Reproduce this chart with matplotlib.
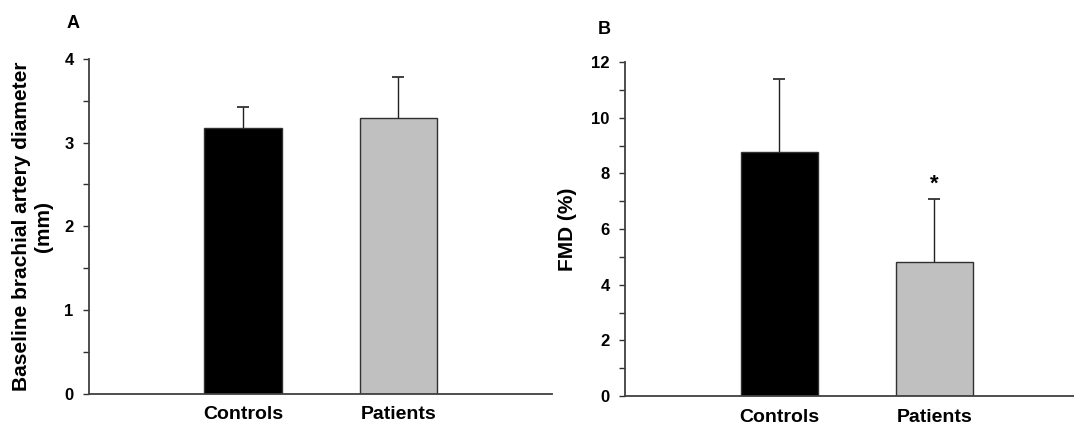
import matplotlib
matplotlib.use("Agg")
import matplotlib.pyplot as plt
from matplotlib.ticker import MultipleLocator

plt.rcParams['font.family'] = ['Liberation Sans', 'DejaVu Sans']
plt.rcParams['font.weight'] = 'bold'

groups = ['Controls', 'Patients']
bar_colors = ['#000000', '#C0C0C0']

# panel A: baseline brachial artery diameter (mm)
diam_mean = [3.17, 3.29]
diam_sd = [0.26, 0.50]

# panel B: FMD (%)
fmd_mean = [8.75, 4.81]
fmd_sd = [2.64, 2.25]
fmd_star = [None, 7.6]

W, H = 1074, 425
fig = plt.figure(figsize=(W / 100, H / 100), dpi=100)

def px_axes(left, right, top, bottom):
    return fig.add_axes([left / W, 1 - bottom / H, (right - left) / W, (bottom - top) / H])

axA = px_axes(89, 552, 59, 393.5)
axB = px_axes(625, 1074, 62, 396)

def draw_panel(ax, means, sds, ymax, major, minor, ylabel, xlim, labelpad):
    x = range(len(groups))
    ax.bar(x, means, width=0.5, color=bar_colors, edgecolor='#303030', linewidth=1.0, zorder=2)
    eb = ax.errorbar(x, means, yerr=[[0] * len(sds), sds], fmt='none', ecolor='#202020',
                     elinewidth=1.0, capsize=4, capthick=1.2, zorder=1)
    # only the upper cap is drawn
    eb[1][0].set_visible(False)
    ax.set_ylim(0, ymax)
    ax.set_xlim(*xlim)
    ax.yaxis.set_major_locator(MultipleLocator(major))
    ax.yaxis.set_minor_locator(MultipleLocator(minor))
    ax.set_xticks(list(x))
    ax.set_xticklabels(groups, fontsize=14, fontweight='bold')
    ax.tick_params(axis='x', length=0, pad=9)
    ax.tick_params(axis='y', which='both', direction='out', length=4, width=1.0,
                   color='#303030', labelsize=12, pad=7)
    for lab in ax.get_yticklabels():
        lab.set_fontweight('bold')
    ax.spines['top'].set_visible(False)
    ax.spines['right'].set_visible(False)
    for s in ('left', 'bottom'):
        ax.spines[s].set_color('#404040')
        ax.spines[s].set_linewidth(1.3)
    ax.set_ylabel(ylabel, fontsize=15, fontweight='bold', labelpad=labelpad, linespacing=1.2)

draw_panel(axA, diam_mean, diam_sd, 4, 1, 0.5,
           'Baseline brachial artery diameter\n(mm)', (-0.99, 1.987), 8)
draw_panel(axB, fmd_mean, fmd_sd, 12, 2, 1, 'FMD (%)', (-0.995, 1.90), 10)

for i, y in enumerate(fmd_star):
    if y is not None:
        axB.text(i, y, '*', ha='center', va='center', fontsize=16, fontweight='bold')

fig.text(67 / W, 1 - 23 / H, 'A', fontsize=13, fontweight='bold', va='center')
fig.text(598 / W, 1 - 29 / H, 'B', fontsize=13, fontweight='bold', va='center')

fig.savefig('out.png', dpi=100)
